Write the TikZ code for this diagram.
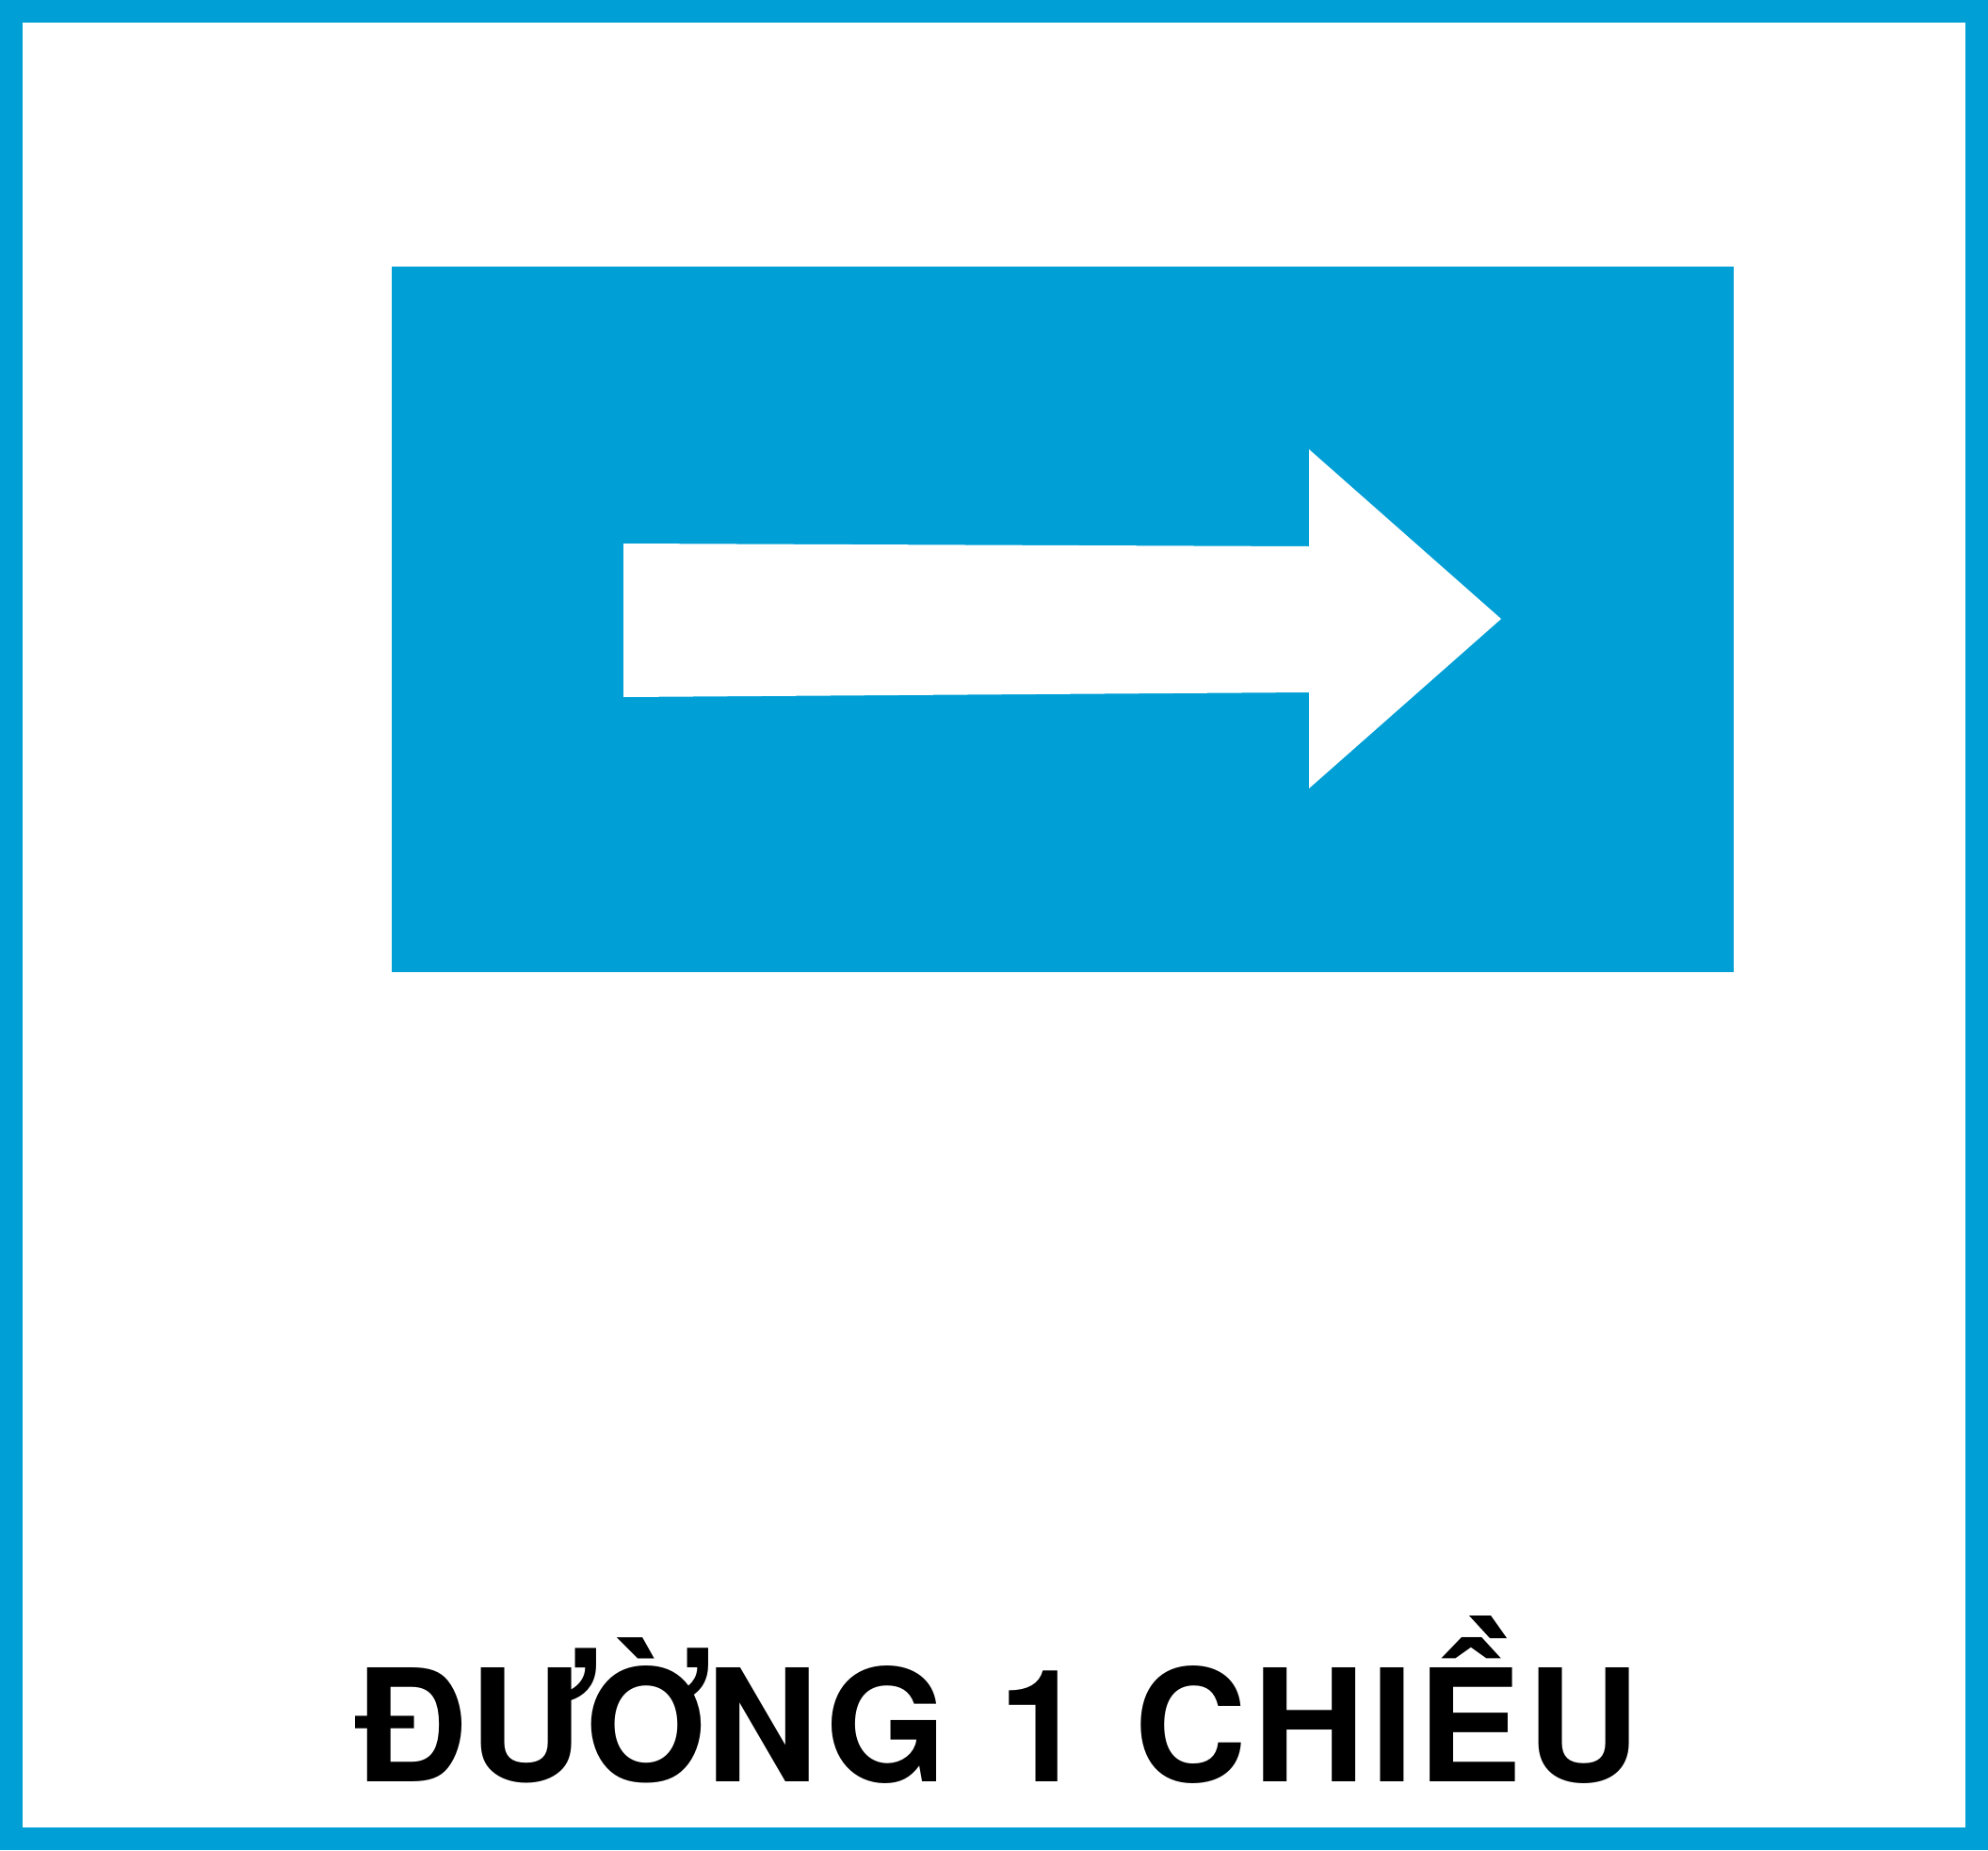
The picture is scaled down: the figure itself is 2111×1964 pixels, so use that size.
\documentclass[tikz,border=0pt]{standalone}
\usepackage{fontspec}
\newfontfamily\signfont{TeX Gyre Heros}
\definecolor{signblue}{RGB}{0,159,214}
\begin{document}
\begin{tikzpicture}[x=1pt,y=-1pt,
  letter/.style={inner sep=0pt,anchor=base,font=\signfont\bfseries\fontsize{166}{166}\selectfont}]
\useasboundingbox (0,0) rectangle (2111,1964);
% frame
\fill[signblue] (0,0) rectangle (2111,1964);
\fill[white] (24,24) rectangle (2087,1940);
% blue panel
\fill[signblue] (416,283) rectangle (1841,1032);
% arrow
\fill[white] (662,577) -- (1390,580) -- (1390,477) -- (1594,657) -- (1390,837) -- (1390,735) -- (662,740) -- cycle;
% text
\node[letter] (l1) at (437,1891) {Đ};
\node[letter] (l2) at (567,1891) {Ư};
\node[letter] (l3) at (689,1891) {Ờ};
\node[letter] (l4) at (809,1891) {N};
\node[letter] (l5) at (941,1891) {G};
\node[letter] (l6) at (1107,1891) {1};
\node[letter] (l7) at (1264,1891) {C};
\node[letter] (l8) at (1390,1891) {H};
\node[letter] (l9) at (1479,1891) {I};
\begin{scope}
  \clip (1450,1735.5) rectangle (1650,1950);
  \node[letter] (l10) at (1561,1891) {Ề};
\end{scope}
\fill (1560,1715) -- (1583,1715) -- (1600,1739) -- (1582,1739) -- cycle;
\node[letter] (l11) at (1681,1891) {U};
\end{tikzpicture}
\end{document}
